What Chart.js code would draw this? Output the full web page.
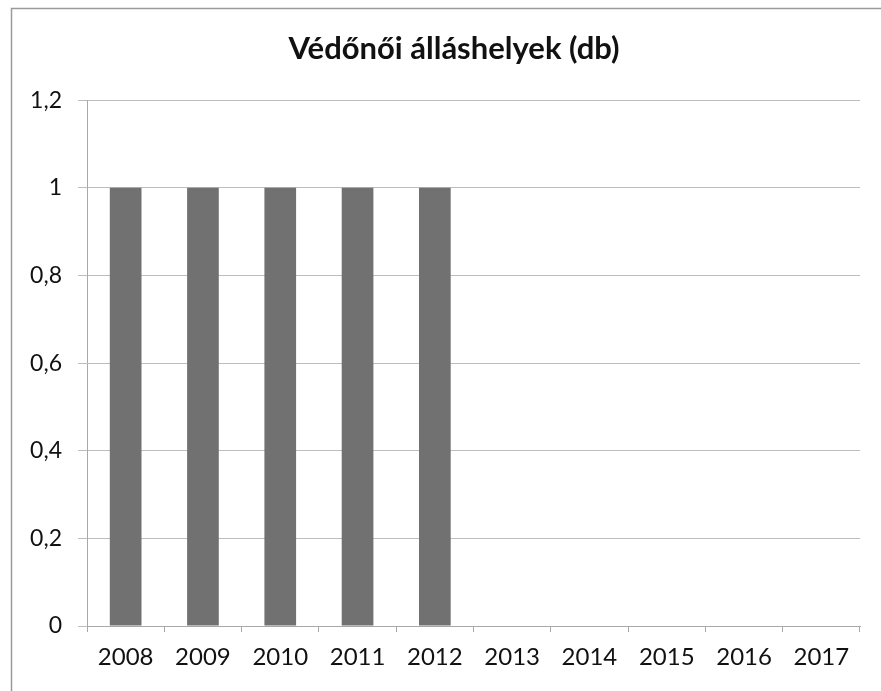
<!DOCTYPE html>
<html>
<head>
<meta charset="utf-8">
<script src="https://cdn.jsdelivr.net/npm/chart.js@4/dist/chart.umd.min.js"></script>
<style>
  html, body { margin: 0; padding: 0; background: #fff; }
  #wrap { width: 881px; height: 691px; position: relative; }
</style>
</head>
<body>
<div id="wrap"><canvas id="barChart" width="881" height="691"></canvas></div>
<script>
const years = ["2008", "2009", "2010", "2011", "2012", "2013", "2014", "2015", "2016", "2017"];
const positions = [1, 1, 1, 1, 1, 0, 0, 0, 0, 0];
const yTicks = [0, 0.2, 0.4, 0.6, 0.8, 1, 1.2];
const chartTitle = "Védőnői álláshelyek (db)";

// scanned-page frame: only top and left edges show
const framePlugin = {
  id: "frame",
  afterLayout(chart) {
    // title in the original sits a bit right of the page centre
    if (chart.titleBlock) chart.titleBlock.left += 28;
  },
  beforeDraw(chart) {
    const ctx = chart.ctx;
    ctx.save();
    ctx.fillStyle = "#fff";
    ctx.fillRect(0, 0, chart.width, chart.height);
    ctx.strokeStyle = "#9a9a9a";
    ctx.lineWidth = 1.5;
    ctx.beginPath();
    ctx.moveTo(11.5, chart.height);
    ctx.lineTo(11.5, 8.5);
    ctx.lineTo(chart.width, 8.5);
    ctx.stroke();
    ctx.restore();
  }
};

const ctx = document.getElementById("barChart").getContext("2d");
const barChart = new Chart(ctx, {
  type: "bar",
  data: {
    labels: years,
    datasets: [{ label: "Védőnői álláshelyek", data: positions, backgroundColor: "#717171", barPercentage: 1, categoryPercentage: 0.41 }]
  },
  options: {
    responsive: false,
    animation: false,
    layout: { padding: { left: 20, right: 21, top: 10, bottom: 0 } },
    plugins: {
      legend: { display: false },
      tooltip: { enabled: false },
      title: {
        display: true,
        text: chartTitle,
        color: "#111",
        font: { family: "Lato", size: 31, weight: "bold" },
        padding: { top: 20, bottom: 33 }
      }
    },
    scales: {
      x: {
        grid: { offset: true, drawOnChartArea: false, drawTicks: true, tickLength: 6, color: "#a8a8a8" },
        border: { color: "#a8a8a8" },
        ticks: { color: "#111", font: { family: "Lato", size: 24 }, padding: 11, maxRotation: 0 },
        afterFit(scale) { scale.height = 65; }
      },
      y: {
        min: 0,
        max: 1.2,
        afterBuildTicks(scale) { scale.ticks = yTicks.map(v => ({ value: v })); },
        grid: { color: "#bdbdbd", tickLength: 9 },
        border: { color: "#a8a8a8" },
        ticks: {
          color: "#111",
          font: { family: "Lato", size: 23 },
          padding: 16,
          callback: v => String(Math.round(v * 10) / 10).replace(".", ",")
        },
        afterFit(scale) { scale.width = 67; }
      }
    }
  },
  plugins: [framePlugin]
});
</script>
</body>
</html>
